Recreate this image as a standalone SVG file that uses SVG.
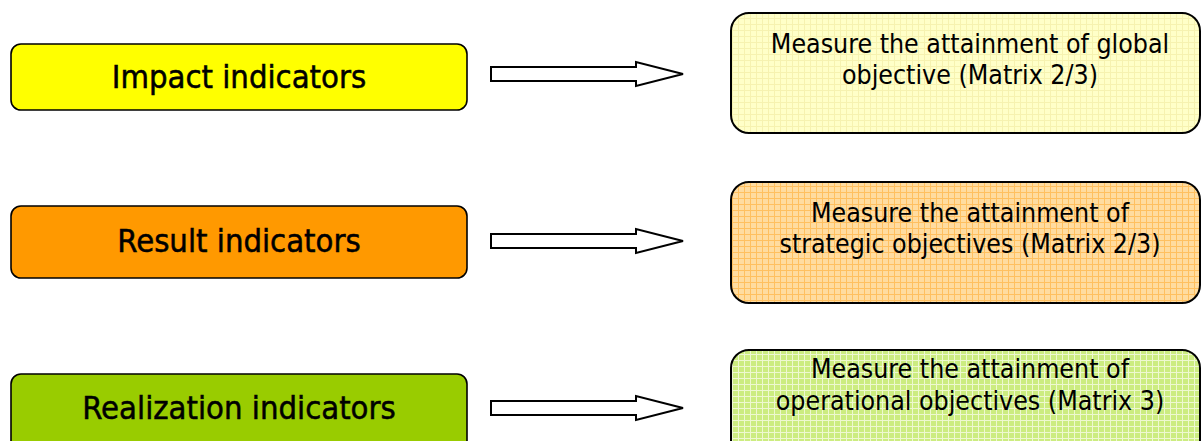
<svg xmlns="http://www.w3.org/2000/svg" width="1201" height="441" viewBox="0 0 1201 441">
<style>
.lbox{stroke:#000;stroke-width:1.6}
.rbox{stroke:#000;stroke-width:2}
.lt{font-family:"DejaVu Sans Condensed","DejaVu Sans",sans-serif;font-stretch:condensed;font-size:32.5px;fill:#000;stroke:#000;stroke-width:0.5;text-anchor:middle}
.rt{font-family:"DejaVu Sans Condensed","DejaVu Sans",sans-serif;font-stretch:condensed;font-size:26.5px;fill:#000;text-anchor:middle}
.arr{fill:#fff;stroke:#000;stroke-width:2;stroke-linejoin:miter}
</style>
<defs>
<pattern id="py" width="6" height="6" patternUnits="userSpaceOnUse">
<rect width="6" height="6" fill="#FFFFC8"/>
<path d="M0 0.5H6M0.5 0V6" stroke="#F6F2B0" stroke-width="1"/>
</pattern>
<pattern id="po" width="6" height="6" patternUnits="userSpaceOnUse">
<rect width="6" height="6" fill="#FFDCA0"/>
<path d="M0 0.5H6M0.5 0V6" stroke="#FFC060" stroke-width="1"/>
</pattern>
<pattern id="pg" width="6" height="6" patternUnits="userSpaceOnUse">
<rect width="6" height="6" fill="#CCEC80"/>
<path d="M0 0.5H6M0.5 0V6" stroke="#EEF8D0" stroke-width="1"/>
</pattern>
</defs>
<rect width="1201" height="441" fill="#fff"/>
<g id="impact">
<rect class="lbox" x="11" y="44" width="456" height="66" rx="10" fill="#FFFF00"/>
<text class="lt" x="239" y="88">Impact indicators</text>
</g>
<g id="result">
<rect class="lbox" x="11" y="206" width="456" height="72" rx="10" fill="#FF9900"/>
<text class="lt" x="239" y="252">Result indicators</text>
</g>
<g id="realization">
<rect class="lbox" x="11" y="374" width="456" height="80" rx="10" fill="#99CC00"/>
<text class="lt" x="239" y="419">Realization indicators</text>
</g>
<g id="global">
<rect class="rbox" x="731" y="13" width="469" height="120" rx="18" fill="url(#py)"/>
<text class="rt" x="970" y="53">Measure the attainment of global</text>
<text class="rt" x="970" y="84">objective (Matrix 2/3)</text>
</g>
<g id="strategic">
<rect class="rbox" x="731" y="182" width="469" height="121" rx="18" fill="url(#po)"/>
<text class="rt" x="970" y="222">Measure the attainment of</text>
<text class="rt" x="970" y="253">strategic objectives (Matrix 2/3)</text>
</g>
<g id="operational">
<rect class="rbox" x="731" y="350" width="469" height="121" rx="18" fill="url(#pg)"/>
<text class="rt" x="970" y="378">Measure the attainment of</text>
<text class="rt" x="970" y="410">operational objectives (Matrix 3)</text>
</g>
<g id="connectors">
<polygon class="arr" points="491,67 636,67 636,62 683,74 636,86 636,81 491,81"/>
<polygon class="arr" points="491,234 636,234 636,229 683,241 636,253 636,248 491,248"/>
<polygon class="arr" points="491,401 636,401 636,396 683,408 636,420 636,415 491,415"/>
</g>
</svg>
